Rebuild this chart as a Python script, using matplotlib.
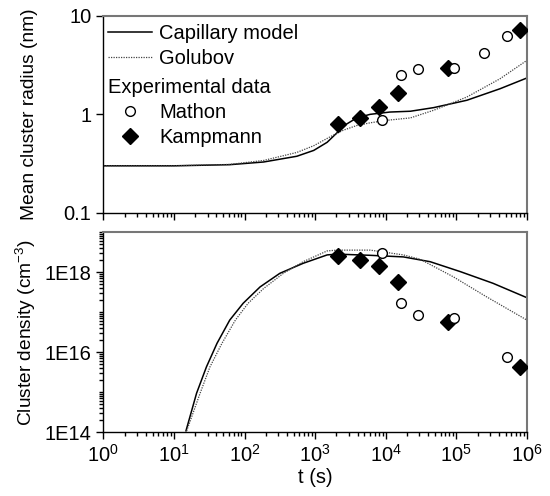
import numpy as np
import matplotlib.pyplot as plt
from matplotlib.ticker import FixedLocator, NullLocator, LogLocator, NullFormatter, FixedFormatter
from matplotlib.lines import Line2D

plt.rcParams['font.family'] = ['Liberation Sans', 'DejaVu Sans']
plt.rcParams['mathtext.fontset'] = 'custom'
plt.rcParams['mathtext.rm'] = 'Liberation Sans'
plt.rcParams['mathtext.it'] = 'Liberation Sans:italic'
plt.rcParams['font.size'] = 14.5

# model curves, radius (nm), time given as log10(t)
lt_cap_r = [0, 1, 1.79, 2.27, 2.74, 2.98, 3.17, 3.31, 3.45, 3.59, 3.78, 4.06, 4.35, 4.68, 5.15, 5.62, 6.0]
r_cap = [0.30, 0.30, 0.308, 0.328, 0.375, 0.43, 0.52, 0.65, 0.80, 0.92, 1.0, 1.055, 1.075, 1.17, 1.39, 1.82, 2.34]
lt_gol_r = [0, 1, 1.79, 2.27, 2.74, 2.98, 3.21, 3.40, 3.59, 3.78, 4.02, 4.35, 4.68, 4.91, 5.15, 5.62, 6.0]
r_gol = [0.30, 0.30, 0.31, 0.34, 0.41, 0.48, 0.59, 0.69, 0.77, 0.82, 0.87, 0.92, 1.10, 1.28, 1.50, 2.30, 3.53]

# model curves, density, as log10(t) and log10(n / cm^-3)
lt_cap_n = [1.17, 1.32, 1.46, 1.61, 1.79, 1.98, 2.22, 2.50, 2.83, 3.17, 3.31, 3.78, 4.25, 4.63, 5.06, 5.52, 6.0]
ln_cap = [14.03, 14.97, 15.63, 16.22, 16.8, 17.22, 17.63, 17.97, 18.22, 18.43, 18.45, 18.42, 18.38, 18.26, 18.01, 17.72, 17.36]
lt_gol_n = [1.18, 1.37, 1.51, 1.68, 1.87, 2.05, 2.27, 2.55, 2.83, 3.17, 3.31, 3.78, 4.25, 4.49, 4.96, 5.43, 6.0]
ln_gol = [14.03, 14.97, 15.63, 16.22, 16.8, 17.22, 17.59, 17.97, 18.26, 18.53, 18.55, 18.55, 18.43, 18.32, 17.88, 17.38, 16.8]

# experimental data
t_kamp = [2.1e3, 4.3e3, 7.9e3, 1.5e4, 7.6e4, 8.1e5]
r_kamp = [0.80, 0.91, 1.19, 1.66, 2.98, 7.2]
ln_kamp = [18.4, 18.3, 18.15, 17.74, 16.76, 15.62]

t_math_r = [8.9e3, 1.65e4, 2.9e4, 9.3e4, 2.5e5, 5.3e5]
r_math = [0.88, 2.49, 2.91, 2.95, 4.2, 6.2]
t_math_n = [8.9e3, 1.65e4, 2.9e4, 9.3e4, 5.3e5]
ln_math = [18.48, 17.22, 16.93, 16.86, 15.88]

fig = plt.figure(figsize=(5.5, 4.96), dpi=100)
ax1 = fig.add_axes([0.188, 0.571, 0.770, 0.397])
ax2 = fig.add_axes([0.188, 0.129, 0.770, 0.403])

mk_k = dict(ls='none', marker='D', ms=8.5, mfc='black', mec='black')
mk_m = dict(ls='none', marker='o', ms=7, mfc='white', mec='black', mew=1)
sty_cap = dict(color='black', lw=1.1)
sty_gol = dict(color='#444444', lw=0.9, ls=(0, (1, 1)))

p10 = lambda v: np.power(10.0, v)

ax1.plot(p10(lt_cap_r), r_cap, **sty_cap)
ax1.plot(p10(lt_gol_r), r_gol, **sty_gol)
ax1.plot(t_kamp, r_kamp, **mk_k, zorder=3)
ax1.plot(t_math_r, r_math, **mk_m, zorder=3)

ax2.plot(p10(lt_cap_n), p10(ln_cap), **sty_cap)
ax2.plot(p10(lt_gol_n), p10(ln_gol), **sty_gol)
ax2.plot(t_kamp, p10(ln_kamp), **mk_k, zorder=3)
ax2.plot(t_math_n, p10(ln_math), **mk_m, zorder=3)

for ax in (ax1, ax2):
    ax.set_xscale('log')
    ax.set_yscale('log')
    ax.set_xlim(1, 1e6)
    ax.xaxis.set_minor_locator(LogLocator(subs=np.arange(2, 10), numticks=20))
    ax.xaxis.set_minor_formatter(NullFormatter())
    ax.tick_params(which='both', direction='out', width=1)
    ax.tick_params(which='major', length=5)
    ax.tick_params(which='minor', length=3)
    for s in ('top', 'right'):
        ax.spines[s].set_color('#777777')
        ax.spines[s].set_linewidth(1.5)
    for s in ('left', 'bottom'):
        ax.spines[s].set_linewidth(1)

ax1.set_ylim(0.1, 10)
ax1.yaxis.set_major_locator(FixedLocator([0.1, 1, 10]))
ax1.yaxis.set_major_formatter(FixedFormatter(['0.1', '1', '10']))
ax1.yaxis.set_minor_locator(NullLocator())
ax1.tick_params(axis='x', which='both', labelbottom=False)
ax1.set_ylabel('Mean cluster radius (nm)', fontsize=13.8)
ax1.yaxis.set_label_coords(-0.155, 0.5)

ax2.set_ylim(1e14, 1e19)
ax2.yaxis.set_major_locator(FixedLocator([1e14, 1e16, 1e18]))
ax2.yaxis.set_major_formatter(FixedFormatter(['1E14', '1E16', '1E18']))
ax2.yaxis.set_minor_locator(LogLocator(subs=np.arange(1, 10), numticks=20))
ax2.yaxis.set_minor_formatter(NullFormatter())
ax2.set_ylabel('Cluster density (cm$^{-3}$)', fontsize=13.8)
ax2.yaxis.set_label_coords(-0.155, 0.5)
ax2.set_xlabel('t (s)', labelpad=2)

leg_kw = dict(loc='upper left', frameon=False, handlelength=2.2, handletextpad=0.35,
              labelspacing=0.3, borderaxespad=0, borderpad=0)
leg1 = ax1.legend(handles=[Line2D([], [], **sty_cap), Line2D([], [], **sty_gol)],
                  labels=['Capillary model', 'Golubov'],
                  bbox_to_anchor=(0.011, 0.96), **leg_kw)
ax1.add_artist(leg1)
ax1.legend(handles=[Line2D([], [], **mk_m), Line2D([], [], **mk_k)],
           labels=['Mathon', 'Kampmann'], title='Experimental data',
           alignment='left', title_fontsize=14.5,
           bbox_to_anchor=(0.011, 0.685), **leg_kw)

fig.savefig('out.png', dpi=100)
